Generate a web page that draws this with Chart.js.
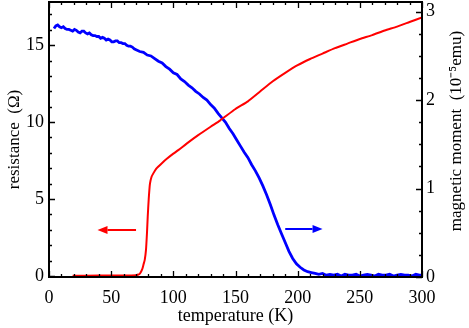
<!DOCTYPE html>
<html>
<head>
<meta charset="utf-8">
<script src="https://cdn.jsdelivr.net/npm/chart.js@4.4.1/dist/chart.umd.min.js"></script>
<style>
  html, body { margin: 0; padding: 0; background: #fff; }
  #wrap { width: 469px; height: 328px; }
</style>
</head>
<body>
<div id="wrap"><canvas id="c" width="469" height="328"></canvas></div>
<script>
// ---- data ----
const resTemps = [19, 40, 60, 70, 72, 73.2, 75, 76, 77, 78, 78.8, 79.4, 80.2, 81.2, 82.5, 83.9, 86, 88, 91, 95, 100, 104, 110.7, 120, 130, 137.5, 150, 160, 170, 180, 190, 200, 210, 220, 230, 240, 250, 260, 270, 280, 290, 300];
const resistance = [0.02, 0.03, 0.04, 0.06, 0.1, 0.17, 0.45, 0.75, 1.05, 1.7, 2.8, 3.85, 5.0, 6.0, 6.45, 6.67, 6.95, 7.12, 7.35, 7.63, 7.95, 8.18, 8.6, 9.15, 9.7, 10.1, 10.85, 11.35, 12.0, 12.65, 13.2, 13.7, 14.1, 14.45, 14.8, 15.1, 15.4, 15.65, 15.95, 16.2, 16.5, 16.8];

const momTemps = [4, 5.5, 7, 8.5, 10, 11.5, 13, 14.5, 16, 17.5, 19, 20.5, 22, 23.5, 25, 26.5, 28, 29.5, 31, 32.5, 34, 35.5, 37, 38.5, 40, 41.5, 43, 44.5, 46, 47.5, 49, 50.5, 52, 53.5, 55, 56.5, 58, 59.5, 61, 62.5, 64, 65.5, 67, 68.5, 70, 73, 76, 79, 82, 85, 88, 91, 94, 97, 100, 103, 106, 109, 112, 115, 118, 121, 124, 127, 130, 133, 136, 139, 142, 145, 148, 151, 154, 157, 160, 163, 166, 169, 172, 175, 178, 181, 184, 187, 190, 193, 196, 199, 202, 205, 208, 211, 214, 217, 220, 223, 226, 229, 232, 235, 238, 241, 244, 247, 250, 253, 256, 259, 262, 265, 268, 271, 274, 277, 280, 283, 286, 289, 292, 295, 298, 300];
const moment = [2.81, 2.84, 2.85, 2.83, 2.82, 2.83, 2.81, 2.80, 2.80, 2.79, 2.78, 2.80, 2.79, 2.77, 2.76, 2.78, 2.78, 2.76, 2.75, 2.76, 2.74, 2.73, 2.73, 2.72, 2.72, 2.70, 2.71, 2.70, 2.68, 2.69, 2.68, 2.66, 2.66, 2.67, 2.67, 2.65, 2.65, 2.64, 2.64, 2.62, 2.61, 2.61, 2.60, 2.58, 2.57, 2.55, 2.54, 2.51, 2.50, 2.47, 2.44, 2.42, 2.38, 2.35, 2.31, 2.29, 2.24, 2.21, 2.17, 2.14, 2.10, 2.07, 2.03, 2.00, 1.95, 1.91, 1.85, 1.80, 1.75, 1.68, 1.62, 1.55, 1.48, 1.41, 1.35, 1.27, 1.20, 1.12, 1.03, 0.93, 0.82, 0.70, 0.59, 0.49, 0.39, 0.29, 0.21, 0.15, 0.11, 0.08, 0.06, 0.05, 0.04, 0.03, 0.04, 0.02, 0.03, 0.02, 0.03, 0.01, 0.03, 0.02, 0.02, 0.03, 0.01, 0.02, 0.03, 0.02, 0.01, 0.03, 0.02, 0.02, 0.03, 0.01, 0.02, 0.03, 0.02, 0.02, 0.01, 0.03, 0.02, 0.02];

const xMajorTicks = [0, 50, 100, 150, 200, 250, 300];
const xMinorTicks = [10, 20, 30, 40, 60, 70, 80, 90, 110, 120, 130, 140, 160, 170, 180, 190, 210, 220, 230, 240, 260, 270, 280, 290];
const leftMajorTicks = [0, 5, 10, 15];
const leftMinorTicks = [1, 2, 3, 4, 6, 7, 8, 9, 11, 12, 13, 14, 16, 17];
const rightMajorTicks = [0, 1, 2, 3];
const rightMinorTicks = [0.25, 0.5, 0.75, 1.25, 1.5, 1.75, 2.25, 2.5, 2.75];

// arrows: [fromT, toT, value]
const resArrow = [70, 39, 3.0];
const momArrow = [190, 220, 0.54];

const rightTitle = 'magnetic moment  (10⁻⁵emu)';

// ---- chart ----
const FONT = 'Liberation Serif';
const RED = '#ff0000';
const BLUE = '#0000ff';

const pts = (xs, ys) => xs.map((x, i) => ({ x: x, y: ys[i] }));

const frameTicks = {
  id: 'frameTicks',
  afterDatasetsDraw(chart) {
    const { ctx, chartArea: a, scales } = chart;
    const x = scales.x, yl = scales.yL, yr = scales.yR;
    ctx.save();
    // arrows
    const arrow = (scaleY, spec, color) => {
      const x1 = x.getPixelForValue(spec[0]);
      const x2 = x.getPixelForValue(spec[1]);
      const y = Math.round(scaleY.getPixelForValue(spec[2]));
      const dir = Math.sign(x2 - x1);
      const hl = 10, hw = 4;
      ctx.strokeStyle = color; ctx.fillStyle = color; ctx.lineWidth = 2;
      ctx.beginPath(); ctx.moveTo(x1, y); ctx.lineTo(x2 - dir * hl, y); ctx.stroke();
      ctx.beginPath(); ctx.moveTo(x2, y); ctx.lineTo(x2 - dir * hl, y - hw); ctx.lineTo(x2 - dir * hl, y + hw); ctx.closePath(); ctx.fill();
    };
    arrow(yl, resArrow, RED);
    arrow(yr, momArrow, BLUE);

    ctx.strokeStyle = '#000';
    ctx.lineWidth = 1.3;
    ctx.beginPath();
    const MAJ = 6, MIN = 3;
    xMajorTicks.concat(xMinorTicks).forEach((v, i) => {
      const L = i < xMajorTicks.length ? MAJ : MIN;
      const px = Math.round(x.getPixelForValue(v)) + 0.5;
      ctx.moveTo(px, a.bottom); ctx.lineTo(px, a.bottom - L);
      ctx.moveTo(px, a.top); ctx.lineTo(px, a.top + L);
    });
    leftMajorTicks.concat(leftMinorTicks).forEach((v, i) => {
      const L = i < leftMajorTicks.length ? MAJ : MIN;
      const py = Math.round(yl.getPixelForValue(v)) + 0.5;
      ctx.moveTo(a.left, py); ctx.lineTo(a.left + L, py);
    });
    rightMajorTicks.concat(rightMinorTicks).forEach((v, i) => {
      const L = i < rightMajorTicks.length ? MAJ : MIN;
      const py = Math.round(yr.getPixelForValue(v)) + 0.5;
      ctx.moveTo(a.right, py); ctx.lineTo(a.right - L, py);
    });
    ctx.stroke();
    ctx.lineWidth = 2;
    ctx.strokeRect(a.left, a.top, a.right - a.left, a.bottom - a.top);

    // y tick labels
    ctx.fillStyle = '#000';
    ctx.font = '18px "' + FONT + '"';
    ctx.textBaseline = 'middle';
    ctx.textAlign = 'right';
    leftMajorTicks.forEach(v => ctx.fillText(String(v), a.left - 5, yl.getPixelForValue(v)));
    ctx.textAlign = 'left';
    rightMajorTicks.forEach(v => ctx.fillText(String(v), a.right + 4, yr.getPixelForValue(v)));

    // right axis title, reading bottom-to-top
    ctx.font = '17px "' + FONT + '"';
    ctx.textAlign = 'center';
    ctx.translate(yr.right - 12, 131);
    ctx.rotate(-Math.PI / 2);
    ctx.fillText(rightTitle, 0, 0);
    ctx.restore();
  }
};

const tickFont = { family: FONT, size: 18 };

new Chart(document.getElementById('c'), {
  type: 'line',
  data: {
    datasets: [
      { data: pts(resTemps, resistance), yAxisID: 'yL', borderColor: RED, borderWidth: 2, pointRadius: 0, tension: 0.2, fill: false },
      { data: pts(momTemps, moment), yAxisID: 'yR', borderColor: BLUE, borderWidth: 2.8, pointRadius: 0, tension: 0, fill: false }
    ]
  },
  options: {
    responsive: false,
    animation: false,
    events: [],
    layout: { padding: { top: 2, left: 0, right: 0, bottom: 0 } },
    plugins: { legend: { display: false }, tooltip: { enabled: false } },
    scales: {
      x: {
        type: 'linear', min: 0, max: 300,
        afterBuildTicks: s => { s.ticks = xMajorTicks.map(v => ({ value: v })); },
        afterFit: s => { s.height = 51; },
        grid: { display: false, drawTicks: false },
        border: { display: false },
        ticks: { font: tickFont, color: '#000', padding: 10, maxRotation: 0 },
        title: { display: true, text: 'temperature (K)', font: { family: FONT, size: 18, lineHeight: 1.0 }, color: '#000', padding: { top: 0, bottom: 3 } }
      },
      yL: {
        type: 'linear', position: 'left', min: -0.06, max: 17.8,
        afterBuildTicks: s => { s.ticks = leftMajorTicks.map(v => ({ value: v })); },
        afterFit: s => { s.width = 49; },
        grid: { display: false, drawTicks: false },
        border: { display: false },
        ticks: { display: false },
        title: { display: true, text: 'resistance  (Ω)', font: { family: FONT, size: 17 }, color: '#000', padding: { top: 4, bottom: 0 } }
      },
      yR: {
        type: 'linear', position: 'right', min: 0, max: 3.11,
        afterBuildTicks: s => { s.ticks = rightMajorTicks.map(v => ({ value: v })); },
        afterFit: s => { s.width = 47; },
        grid: { display: false, drawTicks: false },
        border: { display: false },
        ticks: { display: false },
        title: { display: false }
      }
    }
  },
  plugins: [frameTicks]
});
</script>
</body>
</html>
